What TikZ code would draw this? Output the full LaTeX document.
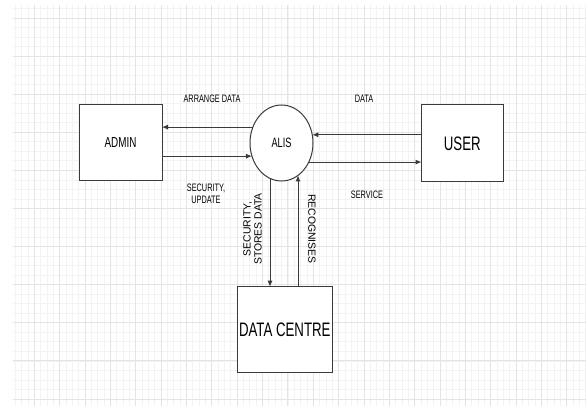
\documentclass[tikz,border=0pt]{standalone}
\usepackage{fontspec}
\setmainfont{Liberation Sans}[FakeStretch=0.68]
\newfontfamily\uprightlabel{Liberation Sans}
\usepackage{xcolor}
\usepackage{tikz}
\usetikzlibrary{arrows.meta,positioning,shapes.geometric}

\definecolor{gridminor}{HTML}{F3F3F3}
\definecolor{gridmajor}{HTML}{E4E4E4}
\definecolor{edgegray}{HTML}{3A3A3A}

\begin{document}
\begin{tikzpicture}[x=1pt, y=-1pt,
        entity/.style={draw=edgegray, line width=1pt, fill=white, inner sep=0pt, outer sep=0pt},
        process/.style={draw=edgegray, line width=1pt, ellipse, fill=white, inner sep=0pt, outer sep=0pt,
            minimum width=63pt, minimum height=76pt, font=\fontsize{13.5}{14}\selectfont},
        flowlabel/.style={align=center, inner sep=0pt, font=\fontsize{10.8}{12}\selectfont},
        sidelabel/.style={align=center, inner sep=0pt, font=\uprightlabel\fontsize{10.4}{11}\selectfont},
        flow/.style={->, draw=edgegray, line width=0.9pt},
        >={Latex[length=6pt, width=5pt]}]

        \useasboundingbox (0,0) rectangle (586,406);
        \fill[white] (0,0) rectangle (586,406);

        % Grid
        \begin{scope}
            \clip (13,5) rectangle (586,406);
            \foreach \k in {-3,...,88}
                \draw[gridminor, line width=0.8pt] ({34.3+\k*6.34},5) -- ({34.3+\k*6.34},406);
            \foreach \k in {-1,...,41}
                \draw[gridminor, line width=0.8pt] (13,{18+\k*9.525}) -- (586,{18+\k*9.525});
            \foreach \k in {0,...,22}
                \draw[gridmajor, line width=0.9pt] ({34.3+\k*25.36},5) -- ({34.3+\k*25.36},406);
            \foreach \k in {0,...,10}
                \draw[gridmajor, line width=0.9pt] (13,{18+\k*38.1}) -- (586,{18+\k*38.1});
        \end{scope}

        % Nodes
        \node[entity, minimum width=83pt, minimum height=76pt, font=\fontsize{14.5}{15}\selectfont] (admin) at (120.5,143) {ADMIN};
        \node[process] (alis) at (281.5,143) {ALIS};
        \node[entity, minimum width=81.5pt, minimum height=77pt, font=\fontsize{19.5}{20}\selectfont] (user) at (462.3,143.3) {USER};
        \node[entity, minimum width=95pt, minimum height=85.6pt, font=\fontsize{19.5}{20}\selectfont] (datacentre) at (284.8,329.5) {DATA CENTRE};

        % Labels
        \node[flowlabel] (arrangelbl) at (212,99) {ARRANGE DATA};
        \node[flowlabel] (securitylbl) at (206,194) {SECURITY,\\UPDATE};
        \node[flowlabel] (datalbl) at (364,99) {DATA};
        \node[flowlabel] (servicelbl) at (367,195) {SERVICE};
        \node[sidelabel, rotate=90] (storeslbl) at (252.5,229) {SECURITY,\\STORES DATA};
        \node[sidelabel, rotate=-90] (recognlbl) at (312,229) {RECOGNISES};

        % Edges
        \draw[flow] (alis.151) -- (alis.151 -| admin.east);
        \draw[flow] (alis.204 -| admin.east) -- (alis.204);
        \draw[flow] (alis.15 -| user.west) -- (alis.15);
        \draw[flow] (alis.-35) -- (alis.-35 -| user.west);
        \draw[flow] (alis.252) -- (alis.252 |- datacentre.north);
        \draw[flow] (alis.297 |- datacentre.north) -- (alis.297);

    \end{tikzpicture}
\end{document}
